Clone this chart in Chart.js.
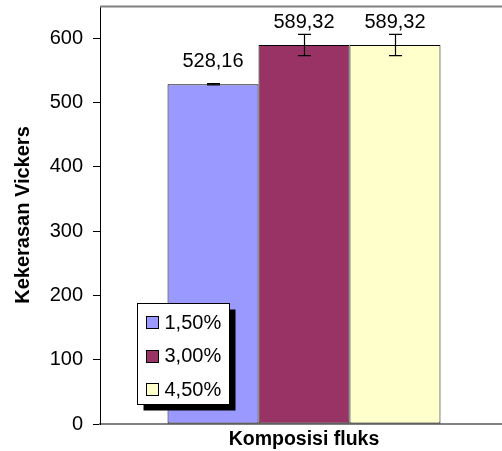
<!DOCTYPE html>
<html>
<head>
<meta charset="utf-8">
<script src="https://cdn.jsdelivr.net/npm/chart.js@4.4.0/dist/chart.umd.min.js"></script>
<style>
html,body{margin:0;padding:0;background:#fff;}
#wrap{width:502px;height:451px;overflow:hidden;position:relative;}
#c{position:absolute;left:0;top:0;}
</style>
</head>
<body>
<div id="wrap"><canvas id="c" width="508" height="451"></canvas></div>
<script>
const categories = ['Komposisi fluks'];
const seriesLabels = ['1,50%', '3,00%', '4,50%'];
const seriesValues = [528.16, 589.32, 589.32];
const seriesErrors = [1, 16.5, 16.5];
const seriesColors = ['#9999FF', '#993366', '#FFFFCC'];
const yTicks = [0, 100, 200, 300, 400, 500, 600];
const yTitle = 'Kekerasan Vickers';
const xTitle = 'Komposisi fluks';

const FONT = '"Liberation Sans", Arial, sans-serif';

const datasets = seriesLabels.map((lab, i) => ({
  label: lab,
  data: [seriesValues[i]],
  backgroundColor: seriesColors[i],
  borderColor: '#000',
  borderWidth: 1,
  borderSkipped: false,
  inflateAmount: 0,
  errorValue: seriesErrors[i]
}));

const decor = {
  id: 'decor',
  afterDatasetsDraw(chart) {
    const ctx = chart.ctx;
    const y = chart.scales.y;
    const ca = chart.chartArea;
    ctx.save();
    // top frame line
    ctx.strokeStyle = '#808080';
    ctx.lineWidth = 2;
    ctx.beginPath();
    ctx.moveTo(ca.left, ca.top + 0.5);
    ctx.lineTo(ca.right, ca.top + 0.5);
    ctx.stroke();
    // error bars + labels
    chart.data.datasets.forEach((ds, i) => {
      const meta = chart.getDatasetMeta(i);
      const bar = meta.data[0];
      const v = ds.data[0];
      const e = ds.errorValue;
      const x = Math.round(bar.x) + 0.5;
      const yt = y.getPixelForValue(v + e);
      const yb = y.getPixelForValue(v - e);
      ctx.strokeStyle = '#000';
      ctx.lineWidth = 1.2;
      ctx.beginPath();
      ctx.moveTo(x, yt); ctx.lineTo(x, yb);
      ctx.moveTo(x - 6.5, yt); ctx.lineTo(x + 6.5, yt);
      ctx.moveTo(x - 6.5, yb); ctx.lineTo(x + 6.5, yb);
      ctx.stroke();
      ctx.fillStyle = '#000';
      ctx.font = '20px ' + FONT;
      ctx.textAlign = 'center';
      ctx.textBaseline = 'alphabetic';
      ctx.fillText(v.toFixed(2).replace('.', ','), bar.x, bar.y - 17.5);
    });
    // legend
    const lx = 137.5, ly = 303.5, lw = 92, lh = 101;
    ctx.fillStyle = '#000';
    ctx.fillRect(lx + 6, ly + 6, lw, lh);
    ctx.fillStyle = '#fff';
    ctx.fillRect(lx, ly, lw, lh);
    ctx.strokeStyle = '#000';
    ctx.lineWidth = 1;
    ctx.strokeRect(lx, ly, lw, lh);
    chart.data.datasets.forEach((ds, i) => {
      const cy = 322 + i * 33.6;
      ctx.fillStyle = ds.backgroundColor;
      ctx.fillRect(146.5, Math.round(cy) - 5.5, 12, 12);
      ctx.strokeStyle = '#000';
      ctx.strokeRect(146.5, Math.round(cy) - 5.5, 12, 12);
      ctx.fillStyle = '#000';
      ctx.font = '20px ' + FONT;
      ctx.textAlign = 'left';
      ctx.textBaseline = 'middle';
      ctx.fillText(ds.label, 164.5, cy + 1);
    });
    ctx.restore();
  }
};

new Chart(document.getElementById('c'), {
  type: 'bar',
  data: { labels: categories, datasets },
  options: {
    responsive: false,
    animation: false,
    devicePixelRatio: 1,
    layout: { padding: { top: 6, right: 0, left: 0, bottom: 0 } },
    datasets: { bar: { barPercentage: 1.0, categoryPercentage: 0.669 } },
    plugins: { legend: { display: false }, tooltip: { enabled: false } },
    scales: {
      x: {
        grid: { display: false },
        border: { color: '#808080', width: 2 },
        ticks: { display: false },
        title: { display: true, text: xTitle, color: '#000', font: { family: FONT, size: 19.5, weight: 'bold' }, padding: { top: 0, bottom: 0 } },
        afterFit(s) { s.height = 27; s.paddingLeft = 0; s.paddingRight = 0; }
      },
      y: {
        min: 0, max: 650,
        afterBuildTicks(s) { s.ticks = yTicks.map(v => ({ value: v })); },
        grid: { drawOnChartArea: false, drawTicks: true, tickLength: 7, color: '#000' },
        border: { color: '#000', width: 1 },
        ticks: { color: '#000', padding: 10, font: { family: FONT, size: 20 } },
        title: { display: true, text: yTitle, color: '#000', font: { family: FONT, size: 20, weight: 'bold' }, padding: { top: 11.5, bottom: 0 } },
        afterFit(s) { s.width = 100; s.paddingTop = 0; s.paddingBottom = 0; }
      }
    }
  },
  plugins: [decor]
});
</script>
</body>
</html>
